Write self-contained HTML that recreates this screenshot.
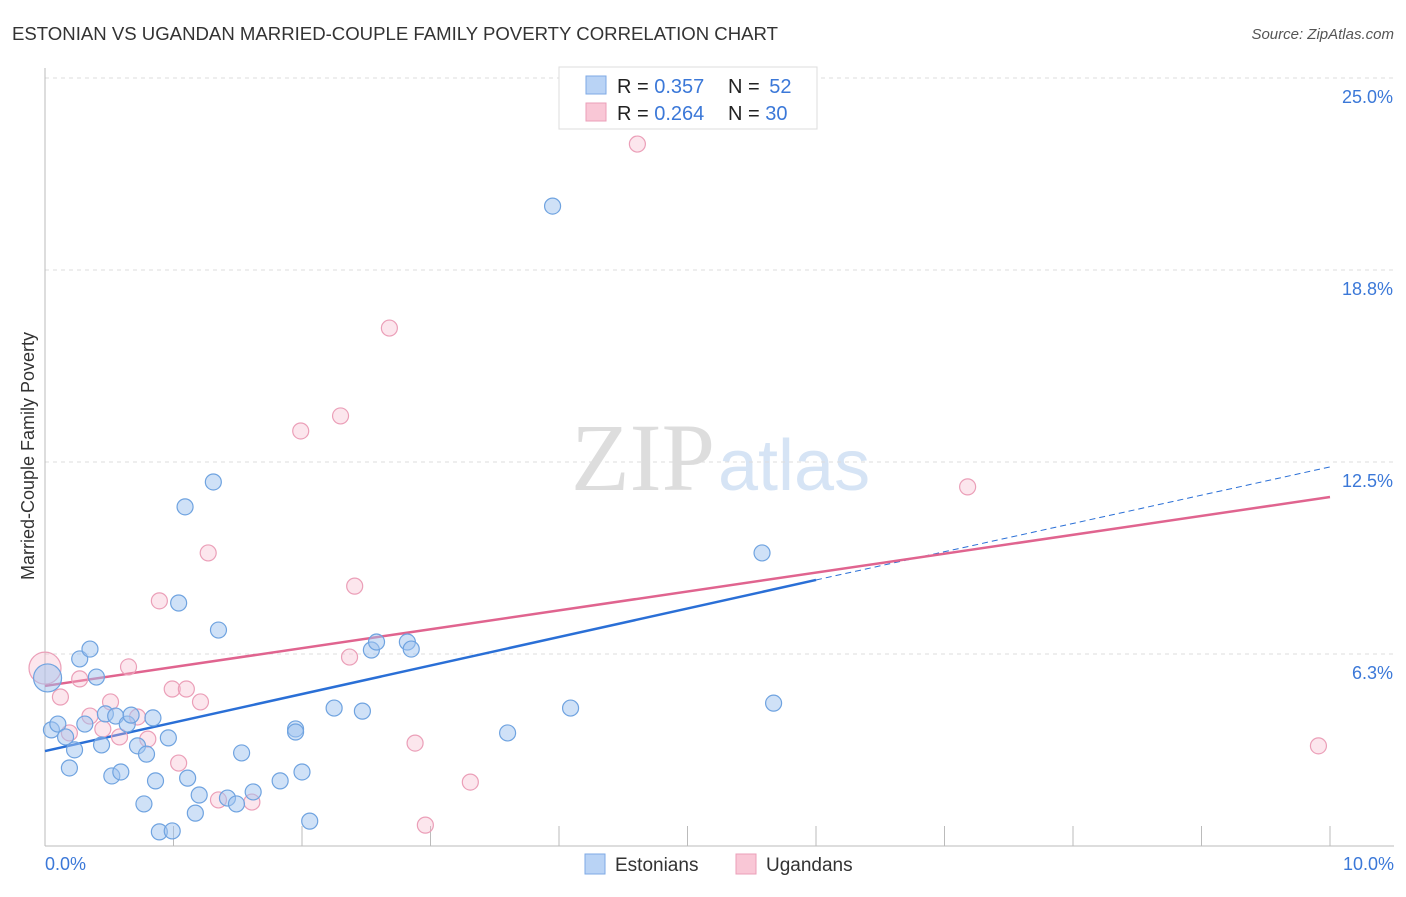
<!DOCTYPE html>
<html><head><meta charset="utf-8"><style>
body{margin:0;background:#fff;font-family:"Liberation Sans",sans-serif;}
svg text{font-family:"Liberation Sans",sans-serif;}
</style></head><body>
<svg id="c" width="1406" height="892" xmlns="http://www.w3.org/2000/svg">
<text x="12" y="40" font-size="18" fill="#333" textLength="766" lengthAdjust="spacingAndGlyphs">ESTONIAN VS UGANDAN MARRIED-COUPLE FAMILY POVERTY CORRELATION CHART</text>
<text x="1394" y="39" font-size="15" fill="#555" font-style="italic" text-anchor="end">Source: ZipAtlas.com</text>
<text x="715" y="490" font-size="96" fill="#ddd" text-anchor="end" style="font-family:'Liberation Serif',serif">ZIP</text>
<text x="718" y="490" font-size="72" fill="#d6e4f5">atlas</text>
<text transform="translate(34,456) rotate(-90)" font-size="18" fill="#333" text-anchor="middle">Married-Couple Family Poverty</text>
<g id="grid"></g><g id="lines"></g><g id="pts"></g>
<g>
<rect x="559" y="67" width="258" height="62" fill="#fff" stroke="#ddd"/>
<rect x="586" y="76" width="20" height="18" fill="#b9d3f5" stroke="#7eaae5"/>
<rect x="586" y="103" width="20" height="18" fill="#f9c7d6" stroke="#eb9fb8"/>
<text x="617" y="93" font-size="20" fill="#222">R = <tspan fill="#3b78d8">0.357</tspan></text>
<text x="728" y="93" font-size="20" fill="#222">N = <tspan dx="4" fill="#3b78d8">52</tspan></text>
<text x="617" y="120" font-size="20" fill="#222">R = <tspan fill="#3b78d8">0.264</tspan></text>
<text x="728" y="120" font-size="20" fill="#222">N = <tspan fill="#3b78d8">30</tspan></text>
</g>
<g>
<rect x="585" y="854" width="20" height="20" fill="#b9d3f5" stroke="#7eaae5"/>
<text x="615" y="871" font-size="19" fill="#333">Estonians</text>
<rect x="736" y="854" width="20" height="20" fill="#f9c7d6" stroke="#eb9fb8"/>
<text x="766" y="871" font-size="19" fill="#333">Ugandans</text>
</g>
</svg>
<script>
const yTicks=[25.0,18.8,12.5,6.3];
const yTickVals=[25,18.75,12.5,6.25];
const xTickLabels=["0.0%","10.0%"];
const blueX=[0.02,0.05,0.10,0.16,0.19,0.23,0.27,0.31,0.35,0.40,0.44,0.47,0.52,0.55,0.59,0.64,0.67,0.72,0.77,0.79,0.84,0.86,0.89,0.96,0.99,1.04,1.09,1.11,1.17,1.20,1.31,1.35,1.42,1.49,1.53,1.62,1.83,1.95,1.95,2.00,2.06,2.25,2.47,2.54,2.58,2.82,2.85,3.60,3.95,4.09,5.58,5.67];
const blueY=[5.47,3.78,3.97,3.55,2.54,3.13,6.09,3.97,6.41,5.50,3.29,4.30,2.28,4.23,2.41,3.97,4.26,3.26,1.37,2.99,4.17,2.12,0.46,3.52,0.49,7.91,11.04,2.21,1.07,1.66,11.85,7.03,1.56,1.37,3.03,1.76,2.12,3.81,3.71,2.41,0.81,4.49,4.39,6.38,6.64,6.64,6.41,3.68,20.83,4.49,9.54,4.65];
const pinkX=[0,0.12,0.19,0.27,0.35,0.45,0.51,0.58,0.65,0.72,0.80,0.89,0.99,1.04,1.10,1.21,1.27,1.35,1.61,1.99,2.30,2.37,2.41,2.68,2.88,2.96,3.31,4.61,7.18,9.91];
const pinkY=[5.79,4.85,3.68,5.44,4.23,3.81,4.69,3.55,5.83,4.20,3.48,7.98,5.11,2.70,5.11,4.69,9.54,1.50,1.43,13.51,14.00,6.15,8.46,16.86,3.35,0.68,2.08,22.85,11.69,3.26];
const blueLine=[3.09,8.66,12.34]; // at x=0, 6, 10
const pinkLine=[5.21,11.36]; // at x=0, 10
const NS="http://www.w3.org/2000/svg";
const X=v=>45+v*128.5, Y=v=>846-v*30.72;
function mk(t,a,p){const e=document.createElementNS(NS,t);for(const k in a)e.setAttribute(k,a[k]);p.appendChild(e);return e;}
const g=document.getElementById('grid');
yTickVals.forEach((v,i)=>{
 const l=mk('line',{x1:45,x2:1394,y1:Y(v),y2:Y(v),stroke:'#ddd','stroke-dasharray':'4,4'},g);
 
 
 const t=mk('text',{x:1393,y:Y(v)+25,'font-size':18,fill:'#3b78d8','text-anchor':'end'},g);
 t.textContent=yTicks[i].toFixed(1)+'%';
 
 
});
mk('line',{x1:45,x2:45,y1:68,y2:846,stroke:'#bbb'},g);
mk('line',{x1:45,x2:1394,y1:846,y2:846,stroke:'#bbb'},g);
for(let i=1;i<=10;i++){const tk=mk('line',{x1:X(i),x2:X(i),y1:826,y2:846,stroke:'#bbb'},g);
 
 }
[[0,'start',45],[1,'end',1394]].forEach(([i,a,x])=>{const t=mk('text',{x:x,y:870,'font-size':18,fill:'#3b78d8','text-anchor':a},g);t.textContent=xTickLabels[i];
 
 });
const ln=document.getElementById('lines');
const bl=mk('line',{x1:X(0),y1:Y(blueLine[0]),x2:X(6),y2:Y(blueLine[1]),stroke:'#2a6fd6','stroke-width':2.5},ln);


const bd=mk('line',{x1:X(6),y1:Y(blueLine[1]),x2:X(10),y2:Y(blueLine[2]),stroke:'#2a6fd6','stroke-width':1,'stroke-dasharray':'6,4'},ln);


const pl=mk('line',{x1:X(0),y1:Y(pinkLine[0]),x2:X(10),y2:Y(pinkLine[1]),stroke:'#e0648f','stroke-width':2.5},ln);


const p=document.getElementById('pts');
pinkX.forEach((v,i)=>{const c=mk('circle',{cx:X(v),cy:Y(pinkY[i]),r:i==0?16:8,fill:'rgba(246,182,203,0.35)',stroke:'#eb9fb8','stroke-width':1.2},p);
 
 });
blueX.forEach((v,i)=>{const c=mk('circle',{cx:X(v),cy:Y(blueY[i]),r:i==0?14:8,fill:'rgba(160,196,240,0.5)',stroke:'#6fa3e0','stroke-width':1.2},p);
 
 });
</script>
</body></html>
